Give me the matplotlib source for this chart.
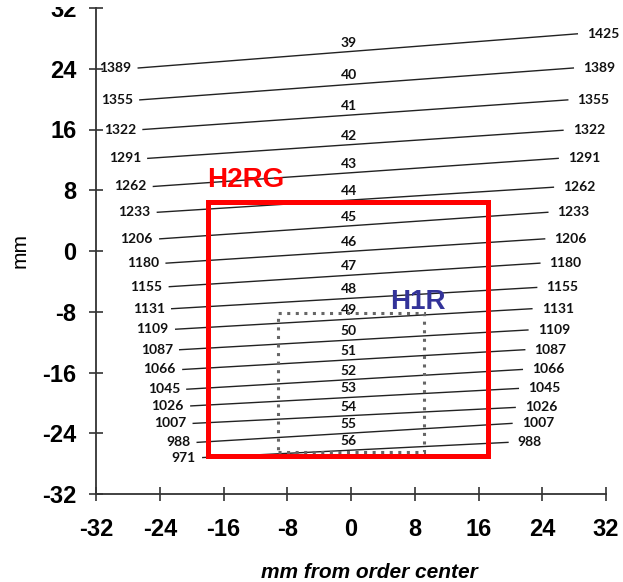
import matplotlib
matplotlib.use("Agg")
from matplotlib import pyplot as plt
from matplotlib.patches import Rectangle

# echelle orders, top to bottom
orders = [39, 40, 41, 42, 43, 44, 45, 46, 47, 48, 49, 50, 51, 52, 53, 54, 55, 56]
# wavelength (nm) at the left and right end of each order
wl_left = [1389, 1355, 1322, 1291, 1262, 1233, 1206, 1180, 1155,
           1131, 1109, 1087, 1066, 1045, 1026, 1007, 988, 971]
wl_right = [1425, 1389, 1355, 1322, 1291, 1262, 1233, 1206, 1180,
            1155, 1131, 1109, 1087, 1066, 1045, 1026, 1007, 988]
# end points of each order in mm
x_left = [-26.7, -26.5, -26.1, -25.5, -24.8, -24.3, -24.0, -23.2, -22.8,
          -22.5, -22.0, -21.5, -21.1, -20.6, -20.1, -19.8, -19.3, -18.6]
y_left = [24.1, 19.9, 16.0, 12.2, 8.5, 5.1, 1.6, -1.6, -4.7,
          -7.6, -10.3, -13.0, -15.6, -18.2, -20.4, -22.7, -25.2, -27.2]
x_right = [28.4, 27.9, 27.2, 26.6, 26.0, 25.4, 24.7, 24.3, 23.7,
           23.3, 22.7, 22.2, 21.8, 21.5, 21.0, 20.6, 20.2, 19.7]
y_right = [28.6, 24.1, 19.9, 15.9, 12.2, 8.4, 5.1, 1.6, -1.6,
           -4.8, -7.6, -10.4, -13.0, -15.6, -18.1, -20.6, -22.7, -25.2]

# detector outlines in mm: x0, x1, y0, y1
h2rg = (-18.0, 17.2, -27.0, 6.4)
h1r = (-9.2, 9.2, -26.5, -8.1)

ticks = [-32, -24, -16, -8, 0, 8, 16, 24, 32]

lab_font = ["Lato", "DejaVu Sans"]

fig = plt.figure(figsize=(6.23, 5.82), dpi=100)
ax = fig.add_axes([96 / 623, 88 / 582, 510 / 623, 486 / 582])

for i in range(len(orders)):
    ax.plot([x_left[i], x_right[i]], [y_left[i], y_right[i]],
            color="#222222", lw=1.0, zorder=2)
    ax.annotate(str(wl_left[i]), (x_left[i], y_left[i]), xytext=(-5, 0),
                textcoords="offset points", ha="right", va="center",
                fontsize=10, weight="bold", family=lab_font, color="#111111")
    ax.annotate(str(wl_right[i]), (x_right[i], y_right[i]), xytext=(7, 0),
                textcoords="offset points", ha="left", va="center",
                fontsize=10, weight="bold", family=lab_font, color="#111111")
    # order number just above the line near x = 0
    xc = -0.3
    t = (xc - x_left[i]) / (x_right[i] - x_left[i])
    yc = y_left[i] + t * (y_right[i] - y_left[i])
    ax.annotate(str(orders[i]), (xc, yc), xytext=(0, 6.5),
                textcoords="offset points", ha="center", va="center",
                fontsize=10, weight="bold", family=lab_font, color="#111111")

ax.add_patch(Rectangle((h2rg[0], h2rg[2]), h2rg[1] - h2rg[0], h2rg[3] - h2rg[2],
                       fill=False, edgecolor="#ff0000", lw=3.6,
                       joinstyle="miter", zorder=3))
ax.add_patch(Rectangle((h1r[0], h1r[2]), h1r[1] - h1r[0], h1r[3] - h1r[2],
                       fill=False, edgecolor="#666666", lw=2.2,
                       linestyle=(0, (1, 1.8)), zorder=4))
ax.text(h2rg[0], h2rg[3] + 2.0, "H2RG", color="#ff0000", fontsize=20,
        weight="bold", family="Liberation Sans", ha="left", va="baseline")
ax.text(4.9, -7.7, "H1R", color="#333399", fontsize=20,
        weight="bold", family="Liberation Sans", ha="left", va="baseline")

ax.set_xlim(-32, 32)
ax.set_ylim(-32, 32)
ax.set_xticks(ticks)
ax.set_yticks(ticks)
ax.set_xticklabels([str(t) for t in ticks], fontsize=17, weight="bold",
                   family="Liberation Sans")
ax.set_yticklabels([str(t) for t in ticks], fontsize=17, weight="bold",
                   family="Liberation Sans")
ax.tick_params(direction="inout", length=10, width=1.2, color="#333333")
ax.tick_params(axis="x", pad=12)
ax.tick_params(axis="y", pad=9)
for s in ["top", "right"]:
    ax.spines[s].set_visible(False)
for s in ["left", "bottom"]:
    ax.spines[s].set_linewidth(1.3)
    ax.spines[s].set_color("#333333")

fig.text(369 / 623, 1 - 572 / 582, "mm from order center", ha="center",
         va="center", fontsize=15, style="italic", weight="bold",
         family="Liberation Sans")
fig.text(20 / 623, 1 - 250 / 582, "mm", rotation=90, ha="center",
         va="center", fontsize=15, family="Liberation Sans")

# the source picture is cropped at the top
fig.add_artist(Rectangle((0, 1 - 7 / 582), 1, 7 / 582, transform=fig.transFigure,
                         facecolor="white", edgecolor="none", zorder=20))

fig.savefig("out.png", dpi=100)
